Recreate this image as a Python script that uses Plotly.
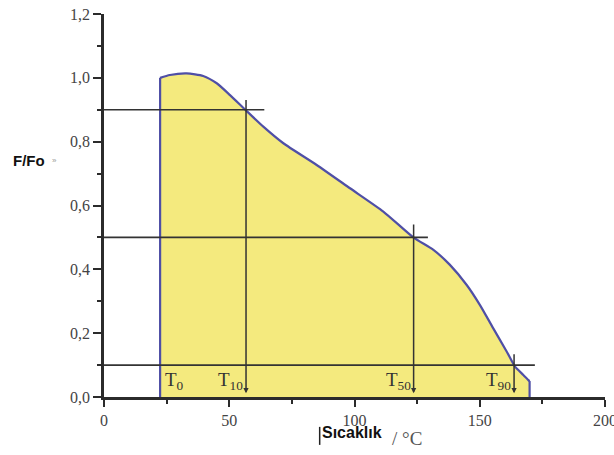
import plotly.graph_objects as go

# F/Fo distillation-style curve versus temperature (from the initial rise to the final drop)
temperature = [22.4, 26.3, 33.0, 39.6, 45.0, 50.3, 56.3, 63.6, 71.6, 84.9, 98.2, 111.5,
               123.5, 131.5, 138.1, 144.8, 150.1, 155.4, 160.8, 164.1, 167.4, 169.4, 169.9]
f_ratio = [1.0, 1.009, 1.014, 1.006, 0.983, 0.946, 0.901, 0.847, 0.795, 0.727, 0.654, 0.581,
           0.5, 0.461, 0.414, 0.351, 0.288, 0.215, 0.142, 0.095, 0.069, 0.053, 0.05]

# Characteristic temperatures and their reference levels
marker_names = ["10", "50", "90"]
marker_temps = [56.7, 123.6, 163.7]
marker_levels = [0.9, 0.5, 0.1]
level_line_ends = [64.0, 129.3, 172.0]
marker_line_tops = [0.935, 0.545, 0.139]

x_ticks = [0, 50, 100, 150, 200]
y_ticks = [0.0, 0.2, 0.4, 0.6, 0.8, 1.0, 1.2]

serif = "Liberation Serif"
ink = "#2b2b2b"
curve_color = "#4f4fa6"

fig = go.Figure()

# Smoothed curve, filled straight down to zero at both ends
fig.add_trace(go.Scatter(
    x=temperature, y=f_ratio, mode="lines", fill="tozeroy",
    fillcolor="#f4ea7e",
    line=dict(color=curve_color, width=2.2, shape="spline", smoothing=0.6),
    hoverinfo="skip", showlegend=False,
))
# Vertical edges at the first and last temperature
for xi, yi in ((temperature[0], f_ratio[0]), (temperature[-1], f_ratio[-1])):
    fig.add_trace(go.Scatter(
        x=[xi, xi], y=[0, yi], mode="lines",
        line=dict(color=curve_color, width=2.2),
        hoverinfo="skip", showlegend=False,
    ))

# Horizontal reference levels from the axis to just past the curve
for lvl, xend in zip(marker_levels, level_line_ends):
    fig.add_trace(go.Scatter(
        x=[0, xend], y=[lvl, lvl], mode="lines",
        line=dict(color="#333333", width=1.6),
        hoverinfo="skip", showlegend=False,
    ))

# Vertical drop lines with arrowheads down to the temperature axis
for t, top in zip(marker_temps, marker_line_tops):
    fig.add_annotation(
        x=t, y=0.012, ax=t, ay=top, xref="x", yref="y", axref="x", ayref="y",
        showarrow=True, arrowhead=2, arrowsize=0.7, arrowwidth=1.5,
        arrowcolor="#333333", text="",
    )

# Temperature labels
fig.add_annotation(
    x=temperature[0], y=0.05, xref="x", yref="y", xanchor="left", yanchor="middle",
    xshift=3, text="T<sub>0</sub>", showarrow=False,
    font=dict(family=serif, size=19, color="#333333"),
)
for name, t in zip(marker_names, marker_temps):
    fig.add_annotation(
        x=t, y=0.05, xref="x", yref="y", xanchor="right", yanchor="middle",
        xshift=-1, text="T<sub>" + name + "</sub>", showarrow=False,
        font=dict(family=serif, size=19, color="#333333"),
    )

# Axis titles
fig.add_annotation(
    x=0, y=0.7425, xref="x", yref="y", xanchor="left", yanchor="middle",
    xshift=-93, text="<b>F/Fo</b>", showarrow=False,
    font=dict(family="Liberation Sans", size=15, color="#111111"),
)
fig.add_annotation(
    x=0, y=0.7425, xref="x", yref="y", xanchor="left", yanchor="middle",
    xshift=-54, text="»", showarrow=False,
    font=dict(family="Liberation Sans", size=8, color="#999999"),
)
fig.add_annotation(
    x=0.431, y=-0.092, xref="paper", yref="paper", xanchor="left", yanchor="middle",
    text="<b>Sıcaklık</b>", showarrow=False,
    font=dict(family="Liberation Sans", size=16, color="#111111"),
)
fig.add_annotation(
    x=0.570, y=-0.108, xref="paper", yref="paper", xanchor="left", yanchor="middle",
    text="/ °C", showarrow=False,
    font=dict(family=serif, size=19, color="#555555"),
)
fig.add_shape(
    type="line", xref="paper", yref="paper", x0=0.4305, x1=0.4305, y0=-0.078, y1=-0.125,
    line=dict(color="#222222", width=1.5),
)

fig.update_xaxes(
    range=[0, 200], tickvals=x_ticks, ticktext=[str(v) for v in x_ticks],
    ticklabeloverflow="allow", automargin=False,
    showgrid=False, zeroline=False, showline=True, linecolor=ink, linewidth=2.5,
    ticks="outside", ticklen=7, tickwidth=2, tickcolor=ink,
    minor=dict(ticks="outside", ticklen=4, tickwidth=2, tickcolor=ink, dtick=25, tick0=0),
    tickfont=dict(family=serif, size=16, color="#444444"),
)
fig.update_yaxes(
    range=[0, 1.2], tickvals=y_ticks, tickformat=".1f", automargin=False,
    showgrid=False, zeroline=False, showline=True, linecolor=ink, linewidth=2.5,
    ticks="outside", ticklen=8, tickwidth=2, tickcolor=ink,
    minor=dict(ticks="outside", ticklen=4, tickwidth=2, tickcolor=ink, dtick=0.1, tick0=0),
    tickfont=dict(family=serif, size=16, color="#444444"),
)

fig.update_layout(
    width=614, height=455,
    margin=dict(l=104, r=9, t=14, b=58),
    paper_bgcolor="white", plot_bgcolor="white",
    separators=",.",
    showlegend=False,
)

fig.write_html("out.html")
